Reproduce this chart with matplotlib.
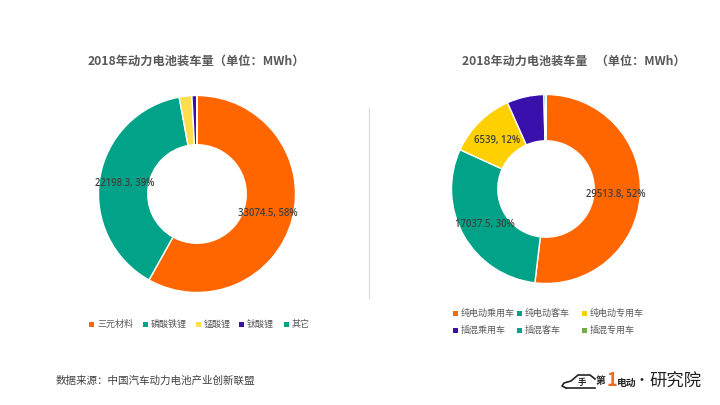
import numpy as np
import matplotlib.pyplot as plt
from matplotlib.patches import Rectangle

plt.rcParams['font.family'] = ['Noto Sans CJK SC', 'DejaVu Sans']

# left chart
left_names = ['三元材料', '磷酸铁锂', '锰酸锂', '钛酸锂', '其它']
left_values = [33074.5, 22198.3, 1180, 440, 30]
left_labels = ['33074.5, 58%', '22198.3, 39%', '', '', '']
left_colors = ['#FF6600', '#00A387', '#FFDD4D', '#3A10AD', '#00A387']

# right chart
right_names = ['纯电动乘用车', '纯电动客车', '纯电动专用车', '插混乘用车', '插混客车', '插混专用车']
right_values = [29513.8, 17037.5, 6539, 3600, 190, 10]
right_labels = ['29513.8, 52%', '17037.5, 30%', '6539, 12%', '', '', '']
right_colors = ['#FF6600', '#00A387', '#FFD000', '#3A10AD', '#00A387', '#70AD47']

W, H = 720, 405
fig = plt.figure(figsize=(W / 100, H / 100), dpi=100, facecolor='white')
canvas = fig.add_axes([0, 0, 1, 1])
canvas.set_xlim(0, W)
canvas.set_ylim(H, 0)
canvas.axis('off')

grey = '#595959'


def donut(cx, cy, r, values, colors, labels, hole):
    ax = fig.add_axes([(cx - r) / W, 1 - (cy + r) / H, 2 * r / W, 2 * r / H])
    wedges, _ = ax.pie(values, colors=colors, startangle=90, counterclock=False, radius=1,
                       wedgeprops=dict(width=1 - hole, edgecolor='white', linewidth=1))
    ax.set_xlim(-1, 1)
    ax.set_ylim(-1, 1)
    for w, lab in zip(wedges, labels):
        if lab:
            a = np.radians((w.theta1 + w.theta2) / 2)
            ax.text(0.74 * np.cos(a), 0.74 * np.sin(a) - 0.015, lab, ha='center', va='center',
                    fontsize=6.9, family='Open Sans', fontweight='semibold', color='#404040', clip_on=False)
    return ax


donut(197, 194, 98.5, left_values, left_colors, left_labels, 0.5)
donut(546, 189, 94.5, right_values, right_colors, right_labels, 0.51)

# titles
canvas.text(196, 61, '2018年动力电池装车量（单位：MWh）', ha='center', va='center',
            fontsize=8.8, fontweight='bold', color=grey)
canvas.text(574, 61, '2018年动力电池装车量   （单位：MWh）', ha='center', va='center',
            fontsize=8.7, fontweight='bold', color=grey)

# divider
canvas.plot([369, 369], [108, 298], color='#D9D9D9', lw=0.8)


def legend_item(x, y, name, color):
    canvas.add_patch(Rectangle((x, y - 2.5), 4.5, 5, color=color, lw=0))
    canvas.text(x + 8, y, name, ha='left', va='center', fontsize=6.5, color=grey)


left_x = [89, 143, 196, 239, 284]
for x, name, color in zip(left_x, left_names, left_colors):
    legend_item(x, 324, name, color)

right_x = [453, 517, 582]
for i, (name, color) in enumerate(zip(right_names, right_colors)):
    legend_item(right_x[i % 3], 313 + 17 * (i // 3), name, color)

# source
canvas.text(56, 381, '数据来源：中国汽车动力电池产业创新联盟', ha='left', va='center',
            fontsize=7.6, color='#404040')

# logo: car outline, then the wordmark
canvas.plot([566, 562, 564, 571, 578, 590, 595],
            [388, 386, 383, 381, 375, 375, 379],
            color='#222222', lw=1.2)
canvas.plot([566, 595], [388, 388], color='#222222', lw=1.2)
canvas.text(582, 382, '手', fontsize=6, fontweight='bold', color='#222222', ha='center', va='center')
canvas.text(600, 381, '第', fontsize=7, fontweight='bold', color='#222222', ha='center', va='center')
canvas.text(611.5, 380, '1', fontsize=13, fontweight='bold', style='italic', color='#F26B21', ha='center', va='center')
canvas.text(627, 383, '电动', fontsize=7, fontweight='bold', color='#222222', ha='center', va='center')
canvas.text(642, 381, '•', fontsize=10, color='#222222', ha='center', va='center')
canvas.text(676, 381, '研究院', fontsize=12.5, color='#222222', ha='center', va='center')

fig.savefig('out.png', dpi=100)
